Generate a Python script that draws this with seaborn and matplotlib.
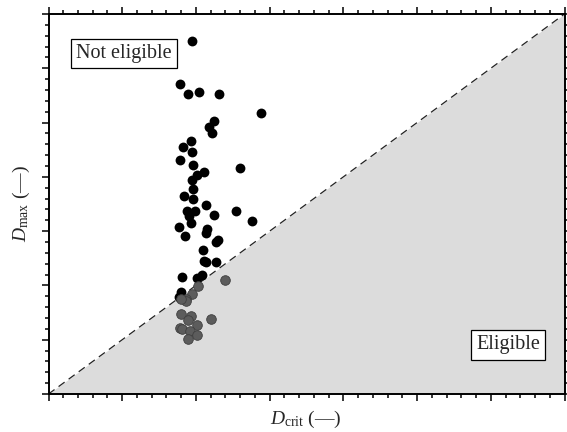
import numpy as np
import pandas as pd
import matplotlib
matplotlib.use("Agg")
import matplotlib.pyplot as plt
import seaborn as sns
from matplotlib.ticker import MultipleLocator, NullFormatter

# Data (axis units 0..7, no tick labels shown)
crit_not = [1.951, 1.788, 1.892, 2.038, 2.309, 2.879, 2.244, 2.184, 2.214, 1.933,
            1.829, 1.951, 1.780, 1.967, 2.594, 2.103, 2.010, 1.947, 1.964, 1.841,
            1.954, 2.133, 1.875, 1.985, 1.909, 2.245, 2.546, 2.761, 1.930, 1.768,
            2.146, 2.130, 1.856, 2.306, 2.270, 2.100, 2.103, 2.137, 2.279, 1.807,
            2.010, 2.086, 1.798, 1.770]
max_not = [6.508, 5.716, 5.532, 5.569, 5.521, 5.171, 5.033, 4.924, 4.804, 4.664,
           4.541, 4.449, 4.307, 4.224, 4.169, 4.086, 4.043, 3.933, 3.771, 3.644,
           3.601, 3.482, 3.362, 3.367, 3.288, 3.292, 3.362, 3.190, 3.150, 3.071,
           3.036, 2.960, 2.905, 2.831, 2.791, 2.653, 2.444, 2.428, 2.437, 2.155,
           2.137, 2.192, 1.870, 1.778]
crit_el = [2.028, 2.389, 1.951, 1.872, 1.865, 1.798, 1.792, 1.930, 1.895, 2.211,
           2.010, 1.780, 1.814, 1.913, 2.012, 1.888]
max_el = [1.989, 2.091, 1.837, 1.759, 1.704, 1.750, 1.470, 1.441, 1.358, 1.376,
          1.271, 1.225, 1.197, 1.157, 1.092, 1.021]
axis_limits = [0, 7]
labels = ["Not eligible", "Eligible"]

df = pd.DataFrame({
    "Dcrit": crit_not + crit_el,
    "Dmax": max_not + max_el,
    "status": [labels[0]] * len(crit_not) + [labels[1]] * len(crit_el),
})

sns.set_style("ticks")
plt.rcParams["font.family"] = ["Liberation Serif", "DejaVu Serif"]
plt.rcParams["mathtext.fontset"] = "custom"
plt.rcParams["mathtext.rm"] = "Liberation Serif"
plt.rcParams["mathtext.it"] = "Liberation Serif:italic"

fig = plt.figure(figsize=(5.67, 4.32), dpi=100)
ax = fig.add_axes([48.5 / 567, 38 / 432, 516 / 567, 380 / 432])

lo, hi = axis_limits
ax.fill_between(axis_limits, axis_limits, [lo, lo], color="#dcdcdc", lw=0, zorder=0)
ax.plot(axis_limits, axis_limits, color="#222222", lw=0.9, ls=(0, (6, 4)), zorder=1)

sns.scatterplot(data=df[df.status == labels[0]], x="Dcrit", y="Dmax", ax=ax,
                color="black", edgecolor="black", linewidth=0, s=50, zorder=3, legend=False)
sns.scatterplot(data=df[df.status == labels[1]], x="Dcrit", y="Dmax", ax=ax,
                color="#5c5c5c", edgecolor="#3f3f3f", linewidth=0.6, s=48, zorder=3, legend=False)

ax.set_xlim(lo, hi)
ax.set_ylim(lo, hi)
for a in (ax.xaxis, ax.yaxis):
    a.set_major_locator(MultipleLocator(1))
    a.set_minor_locator(MultipleLocator(0.2))
    a.set_major_formatter(NullFormatter())
ax.tick_params(which="both", direction="out", top=True, right=True, width=1.1, color="black")
ax.tick_params(which="major", length=5)
ax.tick_params(which="minor", length=3.2)
for sp in ax.spines.values():
    sp.set_visible(True)
    sp.set_linewidth(1.4)
    sp.set_color("black")
ax.set_axisbelow(False)

ax.set_xlabel(r"$D_{\mathrm{crit}}$ (—)", fontsize=14)
ax.set_ylabel(r"$D_{\mathrm{max}}$ (—)", fontsize=14)
ax.xaxis.set_label_coords(0.499, -0.040)
ax.yaxis.set_label_coords(-0.032, 0.5)

box = dict(boxstyle="square,pad=0.25", fc="white", ec="black", lw=0.9)
ax.text(0.146, 0.896, labels[0], transform=ax.transAxes, ha="center", va="center",
        fontsize=14.5, bbox=box, zorder=5)
ax.text(0.8905, 0.129, labels[1], transform=ax.transAxes, ha="center", va="center",
        fontsize=14.5, bbox=box, zorder=5)

fig.savefig("out.png", dpi=100)
